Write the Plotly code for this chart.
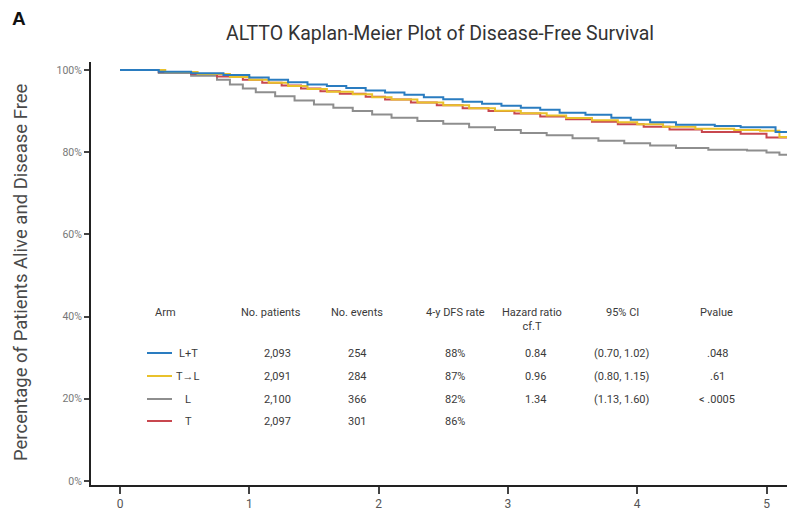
import plotly.graph_objects as go

# ---------------- data ----------------
arm_names = ["L+T", "T\u2192L", "L", "T"]
arm_colors = ["#2a7cc0", "#e9c12b", "#8e8e8e", "#c8474f"]

lt_time = [0, 0.3, 0.55, 0.8, 1.0, 1.15, 1.3, 1.45, 1.6, 1.75, 1.9, 2.05, 2.2, 2.35, 2.5, 2.65,
           2.8, 2.95, 3.1, 3.25, 3.4, 3.6, 3.8, 3.95, 4.1, 4.3, 4.6, 4.8, 5.07, 5.25]
lt_surv = [100, 99.6, 99.2, 98.8, 98.2, 97.6, 97.0, 96.5, 96.1, 95.6, 95.0, 94.5, 94.0, 93.4, 92.9, 92.3,
           91.8, 91.3, 90.8, 90.3, 89.6, 89.1, 88.4, 87.9, 87.3, 86.7, 86.4, 86.1, 84.9, 84.9]

tl_time = [0, 0.35, 0.6, 0.85, 1.0, 1.15, 1.3, 1.45, 1.6, 1.8, 1.95, 2.1, 2.3, 2.5, 2.7, 2.9,
           3.1, 3.3, 3.45, 3.65, 3.85, 4.0, 4.2, 4.45, 4.75, 4.95, 5.1, 5.2, 5.25]
tl_surv = [100, 99.5, 99.0, 98.3, 97.6, 96.9, 96.1, 95.4, 94.7, 94.1, 93.4, 92.8, 92.1, 91.4, 90.7, 90.1,
           89.5, 88.9, 88.3, 87.8, 87.3, 86.8, 86.2, 85.7, 85.4, 85.2, 83.7, 82.0, 82.0]

l_time = [0, 0.3, 0.55, 0.75, 0.85, 0.95, 1.05, 1.2, 1.35, 1.5, 1.65, 1.8, 1.95, 2.1, 2.3, 2.5,
          2.7, 2.9, 3.1, 3.3, 3.5, 3.7, 3.9, 4.1, 4.3, 4.55, 4.85, 5.0, 5.1, 5.25]
l_surv = [100, 99.3, 98.6, 97.6, 96.5, 95.5, 94.6, 93.6, 92.6, 91.6, 90.8, 90.0, 89.2, 88.4, 87.6, 86.9,
          86.1, 85.4, 84.7, 84.1, 83.4, 82.8, 82.2, 81.6, 81.0, 80.6, 80.4, 79.9, 79.4, 79.4]

t_time = [0, 0.3, 0.55, 0.75, 0.95, 1.1, 1.25, 1.4, 1.55, 1.7, 1.9, 2.05, 2.25, 2.45, 2.65, 2.85,
          3.05, 3.25, 3.45, 3.65, 3.85, 4.05, 4.25, 4.5, 4.8, 5.0, 5.25]
t_surv = [100, 99.5, 99.0, 98.4, 97.6, 96.9, 96.2, 95.5, 94.8, 94.2, 93.5, 92.8, 92.1, 91.4, 90.7, 90.0,
          89.4, 88.7, 88.0, 87.4, 86.8, 86.2, 85.5, 84.9, 84.5, 83.6, 83.6]

series_time = [lt_time, tl_time, l_time, t_time]
series_surv = [lt_surv, tl_surv, l_surv, t_surv]
draw_order = [2, 3, 1, 0]

x_ticks = [0, 1, 2, 3, 4, 5]
y_ticks = [0, 20, 40, 60, 80, 100]
y_tick_labels = ["0%", "20%", "40%", "60%", "80%", "100%"]

table_headers = ["Arm", "No. patients", "No. events", "4-y DFS rate", "Hazard ratio<br>cf.T", "95% CI", "Pvalue"]
n_patients = ["2,093", "2,091", "2,100", "2,097"]
n_events = ["254", "284", "366", "301"]
dfs_rate = ["88%", "87%", "82%", "86%"]
hazard_ratio = ["0.84", "0.96", "1.34", ""]
ci_95 = ["(0.70, 1.02)", "(0.80, 1.15)", "(1.13, 1.60)", ""]
p_values = [".048", ".61", "< .0005", ""]

# ---------------- layout helpers (screen pixel coordinates) ----------------
OFF = 8                      # page body margin
W, H = 795 - OFF, 513 - OFF  # figure size
L, R, T, B = 91, 795, 62, 485  # plot area in screen pixels


def px(x):
    return (x - L) / (R - L)


def py(y):
    return (B - y) / (B - T)


fig = go.Figure()
for i in draw_order:
    fig.add_trace(go.Scatter(
        x=series_time[i], y=series_surv[i], mode="lines",
        line=dict(color=arm_colors[i], width=2, shape="hv"),
        name=arm_names[i], showlegend=False, hoverinfo="skip"))

tfont = "Roboto, Arial, sans-serif"
txt_col = "#3a3a3a"
annotations = []

# table header
header_x = [165, 271, 357, 455, 532, 622, 716]
for hx, h in zip(header_x, table_headers):
    annotations.append(dict(x=px(hx), y=py(304), xref="paper", yref="paper", text=h,
                            showarrow=False, xanchor="center", yanchor="top",
                            font=dict(family=tfont, size=11, color=txt_col)))

row_y = [353, 376, 399, 421]
col_x = [277, 357, 455, 535, 622, 717]
shapes = []
for r in range(4):
    yy = py(row_y[r])
    shapes.append(dict(type="line", xref="paper", yref="paper", x0=px(147), x1=px(172), y0=yy, y1=yy,
                       line=dict(color=arm_colors[r], width=2)))
    annotations.append(dict(x=px(188), y=yy, xref="paper", yref="paper", text=arm_names[r],
                            showarrow=False, xanchor="center", yanchor="middle",
                            font=dict(family=tfont, size=11, color=txt_col)))
    vals = [n_patients[r], n_events[r], dfs_rate[r], hazard_ratio[r], ci_95[r], p_values[r]]
    for cx, v in zip(col_x, vals):
        if v:
            annotations.append(dict(x=px(cx), y=yy, xref="paper", yref="paper", text=v,
                                    showarrow=False, xanchor="center", yanchor="middle",
                                    font=dict(family=tfont, size=11, color=txt_col)))

# panel letter
annotations.append(dict(x=px(10), y=py(18), xref="paper", yref="paper", text="<b>A</b>",
                        showarrow=False, xanchor="left", yanchor="middle",
                        font=dict(family="Arial, sans-serif", size=19, color="#111")))

# y-axis title
annotations.append(dict(x=px(21), y=py(272), xref="paper", yref="paper",
                        text="Percentage of Patients Alive and Disease Free",
                        showarrow=False, textangle=-90, xanchor="center", yanchor="middle",
                        font=dict(family=tfont, size=18.5, color="#4a4a4a")))

fig.update_layout(
    width=W, height=H,
    margin=dict(l=L - OFF, r=0, t=T - OFF, b=(OFF + H) - B, autoexpand=False),
    paper_bgcolor="white", plot_bgcolor="white",
    title=dict(text="ALTTO Kaplan-Meier Plot of Disease-Free Survival",
               x=(440 - OFF) / W, xanchor="center", y=1 - (33 - OFF) / H, yanchor="middle",
               font=dict(family=tfont, size=19.5, color="#333")),
    xaxis=dict(range=[(L - 120) / 129.3, (R - 120) / 129.3], tickvals=x_ticks,
               ticks="outside", ticklen=7, tickwidth=1.5, tickcolor="#444",
               showline=True, linecolor="#222", linewidth=2,
               showgrid=False, zeroline=False,
               tickfont=dict(family=tfont, size=12, color="#555")),
    yaxis=dict(range=[(481 - B) / 4.11, (481 - T) / 4.11], tickvals=y_ticks, ticktext=y_tick_labels,
               ticks="outside", ticklen=5, tickwidth=1.5, tickcolor="#444",
               showline=True, linecolor="#222", linewidth=2,
               showgrid=False, zeroline=False,
               tickfont=dict(family=tfont, size=10.5, color="#777")),
    annotations=annotations,
    shapes=shapes,
)

fig.write_html("out.html")
